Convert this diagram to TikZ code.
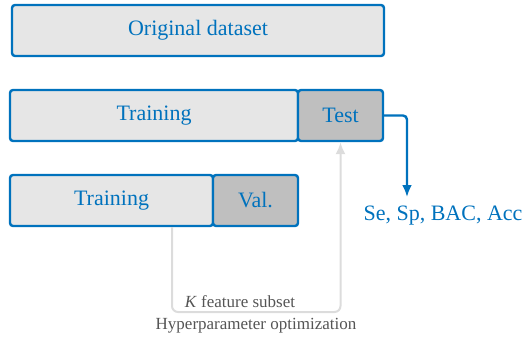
\documentclass[tikz,border=0pt]{standalone}
\usepackage{fontspec}
\setmainfont{Liberation Serif}
\usetikzlibrary{arrows.meta,calc}
\definecolor{mblue}{HTML}{0072BD}
\definecolor{lightfill}{HTML}{E6E6E6}
\definecolor{darkfill}{HTML}{BFBFBF}
\definecolor{linegray}{HTML}{DCDCDC}
\definecolor{labelgray}{HTML}{555555}
\tikzset{
  block/.style={draw=mblue, line width=1.2pt, rounded corners=1.5pt,
    text=mblue, minimum height=25.5pt, inner sep=0pt,
    font=\fontsize{11}{13}\selectfont},
  lightblock/.style={block, fill=lightfill},
  darkblock/.style={block, fill=darkfill},
  bluearrow/.style={draw=mblue, line width=1.2pt, rounded corners=2pt,
    -{Latex[length=6pt,width=5pt]}},
  grayarrow/.style={draw=linegray, line width=1pt, rounded corners=3pt,
    -{Latex[length=6pt,width=5pt]}},
  smalllabel/.style={text=labelgray, inner sep=0pt,
    font=\fontsize{8.5}{10}\selectfont}
}
\begin{document}
\begin{tikzpicture}[x=0.5pt,y=-0.5pt]
  \useasboundingbox (0,0) rectangle (525,337);
  \node[lightblock, minimum width=186pt] (orig) at (198,30.5) {Original dataset};
  \node[lightblock, minimum width=144pt] (train) at (154,115.5) {Training};
  \node[darkblock, minimum width=42.5pt] (test) at (340.5,115.5) {Test};
  \node[lightblock, minimum width=101.5pt] (train2) at (111.5,200.5) {Training};
  \node[darkblock, minimum width=42.5pt] (val) at (255.5,200.5) {Val.};
  \node[text=mblue, inner sep=0pt, font=\fontsize{11}{13}\selectfont] (metrics) at (443,216) {Se, Sp, BAC, Acc};
  \coordinate (metricsin) at (407,197);
  \draw[bluearrow] (test.east) -| (metricsin);
  \coordinate (loopstart) at (172,227);
  \coordinate (loopbottom) at (172,312);
  \draw[grayarrow] (loopstart) -- (loopbottom) -| (test.south);
  \node[smalllabel] (ksub) at (240,302) {\textit{K} feature subset};
  \node[smalllabel] (hyper) at (256,326) {Hyperparameter optimization};
\end{tikzpicture}
\end{document}
